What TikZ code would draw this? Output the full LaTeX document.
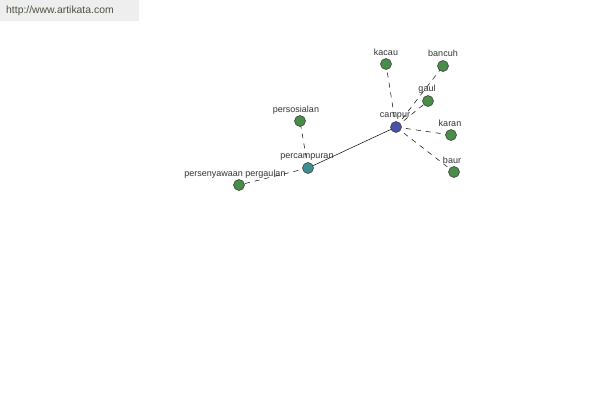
\documentclass[tikz,border=0pt]{standalone}
\usepackage{fontspec}
\setmainfont{Liberation Sans}
\definecolor{ngreen}{HTML}{4A8C4A}
\definecolor{nblue}{HTML}{4A52A8}
\definecolor{nteal}{HTML}{3F8E90}
\definecolor{hdrbg}{HTML}{EEEEEE}
\definecolor{hdrtx}{HTML}{4A5240}
\definecolor{lbl}{HTML}{333333}
\begin{document}
\begin{tikzpicture}[x=1pt,y=-1pt,
  dot/.style={circle,draw=black!80,line width=0.5pt,minimum size=11pt,inner sep=0pt,fill=ngreen},
  lab/.style={font=\fontsize{9}{10}\selectfont,text=lbl,inner sep=0pt},
  dashline/.style={dashed,dash pattern=on 5pt off 5pt,line width=0.5pt},
  solidline/.style={line width=0.5pt}]
\useasboundingbox (0,0) rectangle (600,400);
\fill[white] (0,0) rectangle (600,400);
\fill[hdrbg] (0,0) rectangle (139,21);
\node[font=\fontsize{10.4}{11}\selectfont,text=hdrtx,anchor=west,inner sep=0pt] (url) at (6,11) {http://www.artikata.com};
% edges
\coordinate (c) at (396,127);
\coordinate (pc) at (308,168);
\draw[dashline] (c) -- (386,64) coordinate (kacau);
\draw[dashline] (c) -- (443,66) coordinate (bancuh);
\draw[dashline] (c) -- (451,135) coordinate (karan);
\draw[dashline] (c) -- (454,172) coordinate (baur);
\draw[dashline] (pc) -- (300,121) coordinate (perso);
\draw[dashline] (pc) -- (239,185) coordinate (perse);
\draw[solidline] (c) -- (pc);
% nodes
\node[dot] (nkacau) at (kacau) {};
\node[dot] (nbancuh) at (bancuh) {};
\node[dot] (ngaul) at (428,101) {};
\draw[dashline] (c) -- (ngaul);
\node[dot] (nkaran) at (karan) {};
\node[dot] (nbaur) at (baur) {};
\node[dot] (nperso) at (perso) {};
\node[dot] (nperse) at (perse) {};
\node[dot,fill=nteal] (npc) at (pc) {};
\node[dot,fill=nblue] (nc) at (c) {};
% labels
\node[lab] at (395,116) {campur};
\node[lab] at (386,52) {kacau};
\node[lab] at (443,53) {bancuh};
\node[lab] at (427,89) {gaul};
\node[lab] at (450,123) {karan};
\node[lab] at (452,160) {baur};
\node[lab] at (296,110) {persosialan};
\node[lab] at (307,157) {percampuran};
\node[lab] at (235,174) {persenyawaan pergaulan};
\end{tikzpicture}
\end{document}
